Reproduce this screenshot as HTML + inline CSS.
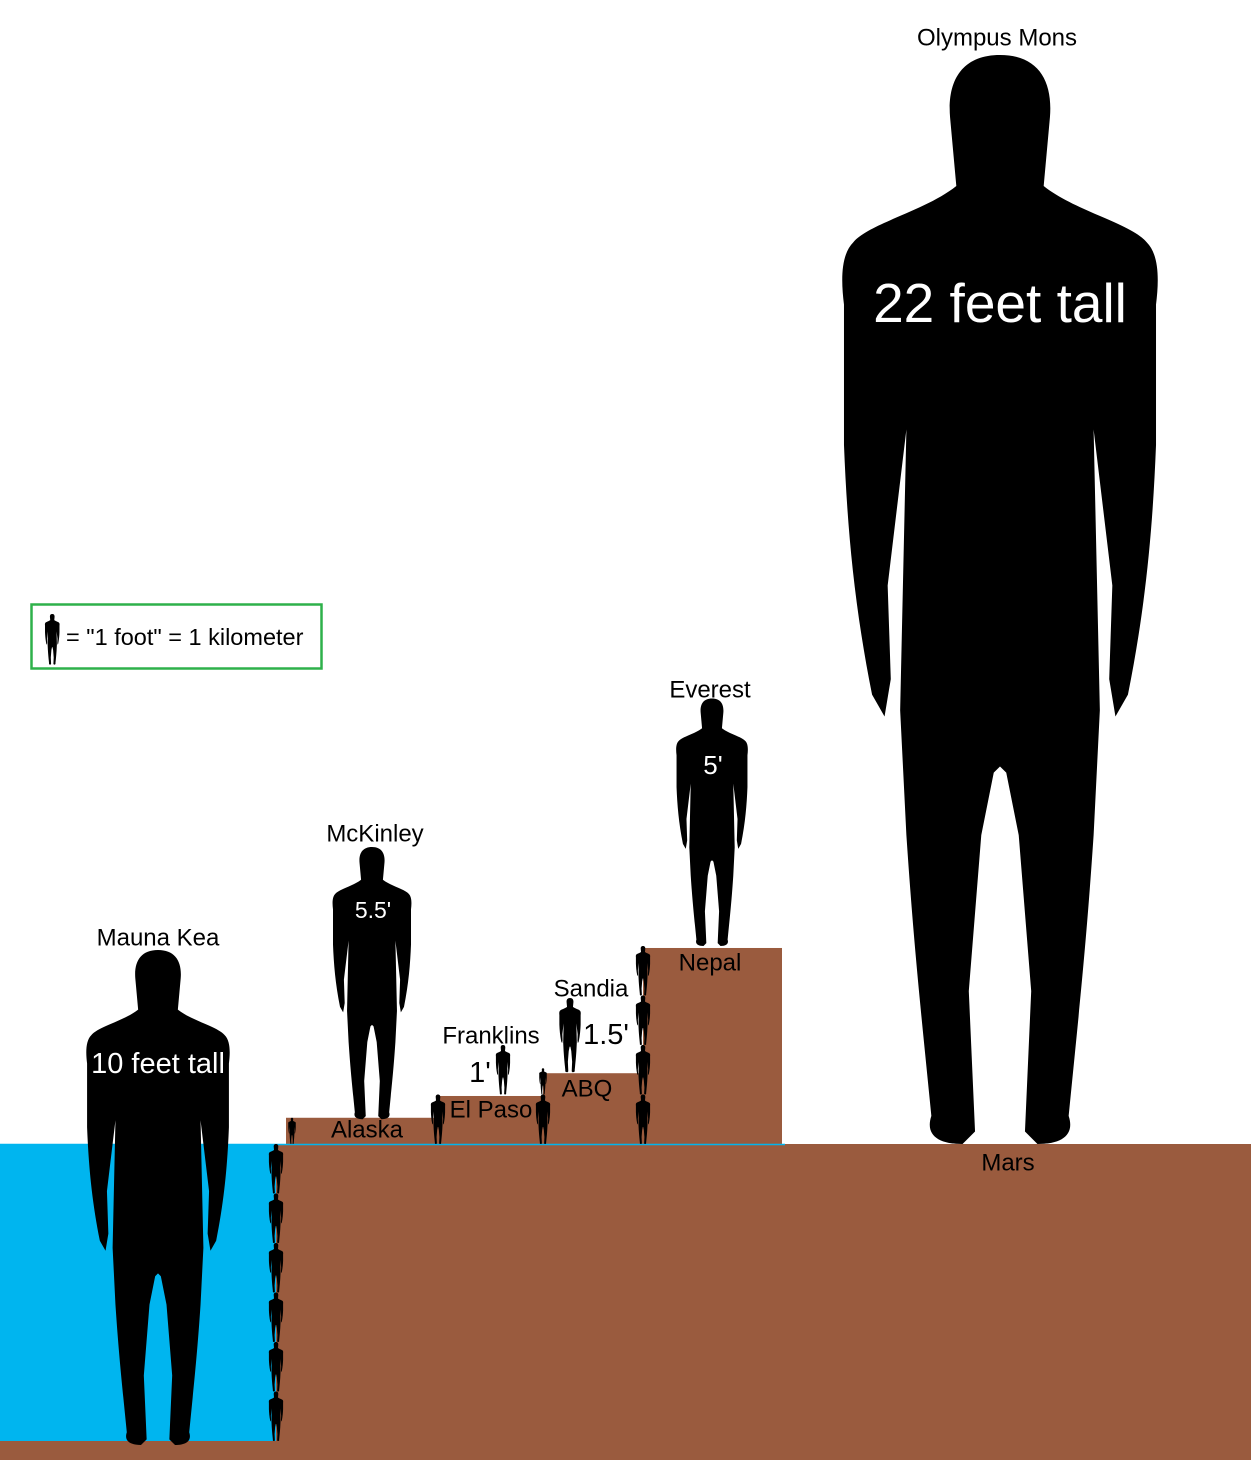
<!DOCTYPE html>
<html><head><meta charset="utf-8"><style>
html,body{margin:0;padding:0;background:#fff}
svg{display:block}
text{font-family:"Liberation Sans",Arial,sans-serif}
</style></head><body>
<svg id="chart" width="1251" height="1460" viewBox="0 0 1251 1460" xmlns="http://www.w3.org/2000/svg">
<defs>
<path id="person" d="M50,0 C62,0 67,8 66,20 L64,42 C74,50 92,54 97,60 C101,64 101,72 100,80 L100,125 C99,150 97,175 91,205 L87,212 L85,200 L86,170 L80,120 L82,210 L80,250 C78,280 76,300 74,320 L72,340 C74,346 70,349 62,349 L58,345 L60,300 L56,250 L52,230 L50,228 L48,230 L44,250 L40,300 L42,345 L38,349 C30,349 26,346 28,340 L26,320 C24,300 22,280 20,250 L18,210 L20,120 L14,170 L15,200 L13,212 L9,205 C3,175 1,150 0,125 L0,80 C-1,72 -1,64 3,60 C8,54 26,50 36,42 L34,20 C33,8 38,0 50,0 Z"/>
</defs>
<rect x="0" y="0" width="1251" height="1460" fill="#fff"/>
<rect x="0" y="1144" width="276" height="297" fill="#00b5ef"/>
<rect x="276" y="1144" width="975" height="316" fill="#9a5b3e"/>
<rect x="0" y="1441" width="276" height="19" fill="#9a5b3e"/>
<g id="blocks"></g>
<line x1="0" y1="1144.5" x2="785" y2="1144.5" stroke="#00b5ef" stroke-width="1.5"/>
<g id="people"></g>
<g id="small"></g>
<rect x="31.5" y="604.5" width="290" height="64" fill="none" stroke="#2eb14a" stroke-width="2.5"/>
<use href="#person" transform="translate(45,614) scale(0.145)"/>
<text x="66" y="645" font-size="23.5">= "1 foot" = 1 kilometer</text>
<g id="labels"></g>
</svg>
<script>
const NS='http://www.w3.org/2000/svg';
const PX_PER_UNIT=49.5, BASE_Y=1144;
// Figure data
const peopleNames=['mauna-kea','mckinley','franklins','sandia','everest','olympus-mons'];
const peopleHeights=[10,5.5,1,1.5,5,22];
const peopleCenters=[158,372,503,570,712,1000];
const peopleBaseKm=[-6,0.5,1,1.45,4,0];
// Block data
const blockNames=['alaska','el-paso','abq','nepal'];
const blockHeights=[0.53,0.97,1.43,3.96];
const blockLefts=[286,437,543,643];
const blockRights=[437,543,643,782];
// Small 1 km figures stacked along step edges
const stackX=[276,292,438,543,643];
const stackFrom=[-6,0,0,0,0];
const stackTo=[0,0.53,0.97,1.43,3.96];

function yOf(v){return BASE_Y - v*PX_PER_UNIT;}
function fig(g,cx,bottom,h,name){
  const px=h*PX_PER_UNIT, s=px/349;
  const u=document.createElementNS(NS,'use');
  u.setAttribute('href','#person');
  u.setAttribute('transform',`translate(${cx-50*s},${bottom-px}) scale(${s})`);
  
  
  g.appendChild(u);
}
const bg=document.getElementById('blocks');
blockNames.forEach((n,i)=>{
  const r=document.createElementNS(NS,'rect');
  r.setAttribute('x',blockLefts[i]);r.setAttribute('width',blockRights[i]-blockLefts[i]);
  r.setAttribute('y',yOf(blockHeights[i]));r.setAttribute('height',blockHeights[i]*PX_PER_UNIT);
  r.setAttribute('fill','#9a5b3e');
  
  
  bg.appendChild(r);
});
const pg=document.getElementById('people');
peopleNames.forEach((n,i)=>{
  const bottom = peopleBaseKm[i]<0 ? 1445 : yOf(peopleBaseKm[i]);
  fig(pg,peopleCenters[i],bottom,peopleHeights[i],n+'-figure');
});
const sg=document.getElementById('small');
stackX.forEach((x,i)=>{
  for(let k=stackFrom[i];k<stackTo[i]-0.01;k+=1){
    const h=Math.min(1,stackTo[i]-k);
    fig(sg,x,yOf(k),h<0.6?0.53:1,'km-scale-figure');
  }
});
// Labels
const labTexts=['Olympus Mons','22 feet tall','Mauna Kea','10 feet tall','McKinley',"5.5'",'Everest',"5'",'Nepal','Sandia',"1.5'",'Franklins',"1'",'El Paso','ABQ','Alaska','Mars'];
const labX=[997,1000,158,158,375,373,710,713,710,591,606,491,480,491,587,367,1008];
const labY=[38,303,938,1064,834,910,690,765,963,989,1035,1036,1073,1110,1089,1130,1163];
const labSize=[24,55,24,29,24,23,24,26,24,24,29,24,29,24,24,24,24];
const labFill=['#000','#fff','#000','#fff','#000','#fff','#000','#fff','#000','#000','#000','#000','#000','#000','#000','#000','#000'];
const lg=document.getElementById('labels');
labTexts.forEach((t,i)=>{
  const e=document.createElementNS(NS,'text');
  e.setAttribute('x',labX[i]);e.setAttribute('y',labY[i]);
  e.setAttribute('text-anchor','middle');e.setAttribute('dominant-baseline','central');
  e.setAttribute('font-size',labSize[i]);e.setAttribute('fill',labFill[i]);
  e.textContent=t;
  
  
  lg.appendChild(e);
});
</script>
</body></html>
